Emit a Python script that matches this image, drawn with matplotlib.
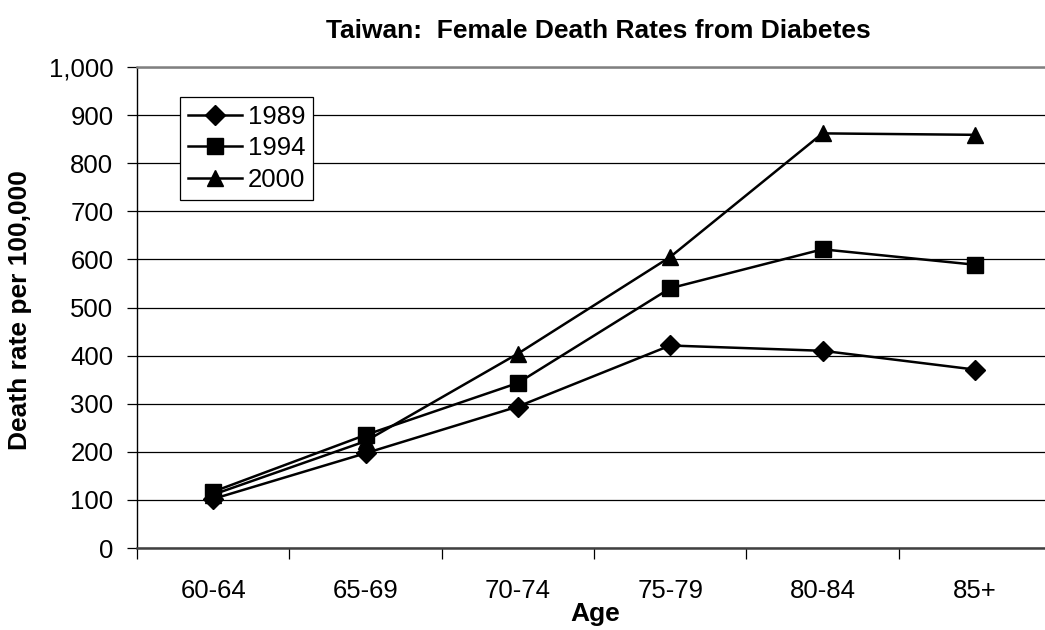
import numpy as np
import matplotlib
matplotlib.use('Agg')
import matplotlib.pyplot as plt

ages = ['60-64', '65-69', '70-74', '75-79', '80-84', '85+']
rates_1989 = [102, 197, 294, 421, 410, 371]
rates_1994 = [117, 235, 343, 540, 621, 589]
rates_2000 = [111, 222, 404, 605, 862, 859]

plt.rcParams['font.family'] = ['Liberation Sans', 'DejaVu Sans']

fig = plt.figure(figsize=(10.45, 6.3), dpi=100)
ax = fig.add_axes([137/1045, 1-548/630, 914/1045, 481/630])

x = np.arange(len(ages))
l1, = ax.plot(x, rates_1989, color='black', lw=1.8, marker='D', ms=10, clip_on=False)
l2, = ax.plot(x, rates_1994, color='black', lw=1.8, marker='s', ms=11, clip_on=False)
l3, = ax.plot(x, rates_2000, color='black', lw=1.8, marker='^', ms=12, clip_on=False)

ax.set_xlim(-0.5, 5.5)
ax.set_ylim(0, 1000)
ax.set_yticks(np.arange(0, 1001, 100))
ax.set_yticklabels(['{:,}'.format(v) for v in range(0, 1001, 100)])
ax.yaxis.grid(True, color='black', lw=0.9)
ax.set_axisbelow(True)

# category labels sit between the boundary ticks
ax.set_xticks(np.arange(-0.5, 6.0, 1.0))
ax.set_xticklabels([])
ax.set_xticks(x, minor=True)
ax.set_xticklabels(ages, minor=True)
ax.tick_params(axis='x', which='minor', length=0, pad=22, labelsize=18.5)
ax.tick_params(axis='x', which='major', length=8, width=0.9, direction='out')
ax.tick_params(axis='y', length=7, width=0.9, direction='out', labelsize=18.5, pad=10)

ax.spines['right'].set_visible(False)
ax.spines['top'].set_color('#808080')
ax.spines['top'].set_linewidth(1.8)
ax.spines['left'].set_linewidth(1.0)
ax.spines['bottom'].set_color('#404040')
ax.spines['bottom'].set_linewidth(1.8)

fig.text(595/1045, 1-614/630, 'Age', ha='center', va='center',
         fontsize=19, fontweight='bold')
fig.text(20/1045, 1-310/630, 'Death rate per 100,000', ha='center', va='center',
         rotation=90, fontsize=19, fontweight='bold')
fig.text(598/1045, 1-31/630, 'Taiwan:  Female Death Rates from Diabetes',
         ha='center', va='center', fontsize=19, fontweight='bold')

leg = ax.legend((l1, l2, l3), ('1989', '1994', '2000'), loc='upper left',
                bbox_to_anchor=(180/1045, 1-97/630), bbox_transform=fig.transFigure,
                borderaxespad=0, fontsize=18.5, handlelength=2.1,
                handletextpad=0.25, labelspacing=0.3, borderpad=0.3,
                fancybox=False, framealpha=1, edgecolor='black')
leg.get_frame().set_linewidth(0.9)

fig.savefig('out.png', dpi=100)
